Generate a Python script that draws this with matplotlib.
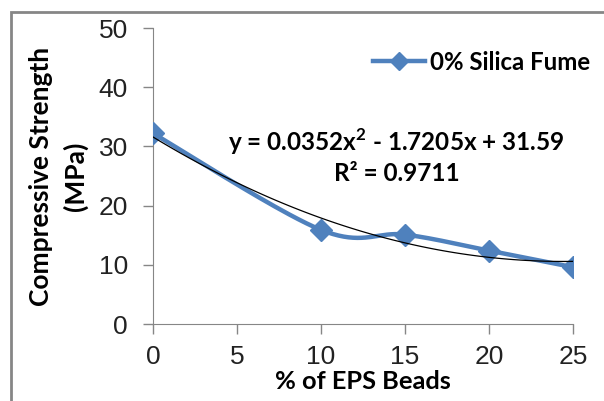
import numpy as np
import matplotlib.pyplot as plt
from matplotlib.patches import Rectangle

# data
eps_beads = [0, 10, 15, 20, 25]
strength = [32.2, 15.9, 15.1, 12.4, 9.6]
x_ticks = [0, 5, 10, 15, 20, 25]
y_ticks = [0, 10, 20, 30, 40, 50]
series_name = '0% Silica Fume'
eq_text = 'y = 0.0352x$^2$ - 1.7205x + 31.59'
r2_text = 'R² = 0.9711'
trend_coef = [0.0352, -1.7205, 31.59]

blue = '#4F81BD'
gray = '#868686'
bold_font = 'Lato'


def smooth_line(xs, ys, n=40):
    # excel-like smoothed line (cardinal bezier through the points)
    xs = np.asarray(xs, float)
    ys = np.asarray(ys, float)
    px, py = [], []
    for i in range(len(xs) - 1):
        i0 = max(i - 1, 0)
        i3 = min(i + 2, len(xs) - 1)
        c1x = xs[i] + (xs[i + 1] - xs[i0]) / 6
        c1y = ys[i] + (ys[i + 1] - ys[i0]) / 6
        c2x = xs[i + 1] - (xs[i3] - xs[i]) / 6
        c2y = ys[i + 1] - (ys[i3] - ys[i]) / 6
        t = np.linspace(0, 1, n)
        px.extend((1 - t) ** 3 * xs[i] + 3 * (1 - t) ** 2 * t * c1x + 3 * (1 - t) * t ** 2 * c2x + t ** 3 * xs[i + 1])
        py.extend((1 - t) ** 3 * ys[i] + 3 * (1 - t) ** 2 * t * c1y + 3 * (1 - t) * t ** 2 * c2y + t ** 3 * ys[i + 1])
    return np.array(px), np.array(py)


plt.rcParams['mathtext.fontset'] = 'custom'
plt.rcParams['mathtext.bf'] = bold_font + ':bold'
plt.rcParams['mathtext.rm'] = bold_font + ':bold'

fig = plt.figure(figsize=(6.04, 4.01), dpi=100)
fig.patches.append(Rectangle((11 / 604, -0.05), 1.1, 1.05 - 12 / 401, transform=fig.transFigure,
                             fill=False, edgecolor=gray, linewidth=2))
ax = fig.add_axes([153 / 604, 1 - 324 / 401, 420 / 604, 296 / 401])

sx, sy = smooth_line(eps_beads, strength)
ax.plot(sx, sy, color=blue, linewidth=3.2, solid_capstyle='round', zorder=3)
ax.plot(eps_beads, strength, linestyle='none', marker='D', markersize=11, color=blue, zorder=4)

tx = np.linspace(0, 25, 100)
ax.plot(tx, np.polyval(trend_coef, tx), color='black', linewidth=0.9, zorder=5)

ax.plot([], [], color=blue, linewidth=3.2, marker='D', markersize=9, label=series_name)
ax.legend(loc='center left', bbox_to_anchor=(0.5, 0.885), frameon=False, handlelength=2.2,
          handletextpad=0.2, borderaxespad=0, prop={'family': bold_font, 'weight': 'bold', 'size': 17.3})

ax.text(0.58, 0.615, eq_text, transform=ax.transAxes, ha='center', va='center',
        fontsize=17.5, fontweight='bold', family=bold_font)
ax.text(0.58, 0.51, r2_text, transform=ax.transAxes, ha='center', va='center',
        fontsize=17.5, fontweight='bold', family=bold_font)

ax.set_xlim(0, 25)
ax.set_ylim(0, 50)
ax.set_xticks(x_ticks)
ax.set_yticks(y_ticks)
ax.tick_params(colors=gray, labelcolor='#222222', length=7, width=1, labelsize=19)
ax.tick_params(axis='y', pad=11)
ax.tick_params(axis='x', pad=8)
for lab in ax.get_xticklabels() + ax.get_yticklabels():
    lab.set_family('Liberation Sans')
for s in ['top', 'right']:
    ax.spines[s].set_visible(False)
for s in ['left', 'bottom']:
    ax.spines[s].set_color(gray)

ax.set_xlabel('% of EPS Beads', fontsize=18.3, fontweight='bold', family=bold_font, labelpad=1)
ax.set_ylabel('Compressive Strength\n(MPa)', fontsize=19, fontweight='bold', family=bold_font,
              labelpad=8, linespacing=1.45)

fig.savefig('out.png', dpi=100)
